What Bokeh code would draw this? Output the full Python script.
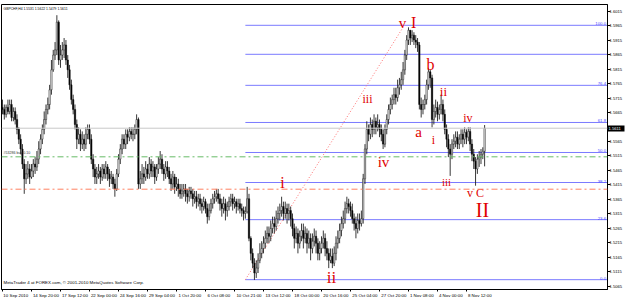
from bokeh.plotting import figure
from bokeh.models import (Range1d, FixedTicker, PrintfTickFormatter, Label, Span,
                          ColumnDataSource, LinearAxis)
from bokeh.core.properties import value
from bokeh.embed import file_html
from bokeh.resources import INLINE

header = "GBPCHF,H4  1.5531 1.5622 1.5479 1.5611"
copyright_note = "MetaTrader 4 at FOREX.com, \u00a9 2001-2010 MetaQuotes Software Corp."
order_note = "#53286 buy 0.10"

first_open = 1.5683
closes = [
    1.5676, 1.5659, 1.5683, 1.5669, 1.5693, 1.5648, 1.5669, 1.5641, 1.5607, 1.5573,
    1.5539, 1.5487, 1.5436, 1.5453, 1.5470, 1.5442, 1.5463, 1.5487, 1.5477, 1.5504,
    1.5539, 1.5573, 1.5607, 1.5641, 1.5676, 1.5693, 1.5744, 1.5813, 1.5864, 1.5882,
    1.5978, 1.5847, 1.5864, 1.5882, 1.5899, 1.5847, 1.5813, 1.5761, 1.5710, 1.5676,
    1.5624, 1.5573, 1.5590, 1.5556, 1.5573, 1.5556, 1.5590, 1.5607, 1.5573, 1.5504,
    1.5470, 1.5442, 1.5453, 1.5463, 1.5442, 1.5470, 1.5453, 1.5477, 1.5453, 1.5436,
    1.5442, 1.5418, 1.5401, 1.5453, 1.5504, 1.5539, 1.5573, 1.5556, 1.5590, 1.5580,
    1.5600, 1.5590, 1.5590, 1.5607, 1.5641, 1.5418, 1.5436, 1.5453, 1.5442, 1.5470,
    1.5453, 1.5487, 1.5463, 1.5477, 1.5442, 1.5470, 1.5487, 1.5504, 1.5470, 1.5453,
    1.5477, 1.5463, 1.5436, 1.5418, 1.5442, 1.5408, 1.5418, 1.5401, 1.5384, 1.5394,
    1.5401, 1.5384, 1.5374, 1.5394, 1.5384, 1.5367, 1.5374, 1.5357, 1.5367, 1.5350,
    1.5340, 1.5357, 1.5333, 1.5305, 1.5326, 1.5350, 1.5367, 1.5374, 1.5384, 1.5367,
    1.5350, 1.5333, 1.5350, 1.5326, 1.5340, 1.5357, 1.5367, 1.5350, 1.5357, 1.5340,
    1.5350, 1.5333, 1.5326, 1.5316, 1.5322, 1.5367, 1.5230, 1.5178, 1.5144, 1.5110,
    1.5127, 1.5154, 1.5178, 1.5195, 1.5213, 1.5230, 1.5247, 1.5237, 1.5264, 1.5281,
    1.5271, 1.5298, 1.5316, 1.5326, 1.5340, 1.5316, 1.5333, 1.5316, 1.5326, 1.5298,
    1.5264, 1.5230, 1.5247, 1.5213, 1.5237, 1.5257, 1.5230, 1.5247, 1.5213, 1.5230,
    1.5195, 1.5220, 1.5237, 1.5213, 1.5178, 1.5195, 1.5213, 1.5230, 1.5195, 1.5178,
    1.5154, 1.5168, 1.5144, 1.5178, 1.5213, 1.5230, 1.5257, 1.5281, 1.5298, 1.5333,
    1.5350, 1.5340, 1.5326, 1.5298, 1.5281, 1.5264, 1.5292, 1.5281, 1.5298, 1.5436,
    1.5539, 1.5607, 1.5590, 1.5624, 1.5607, 1.5635, 1.5614, 1.5624, 1.5607, 1.5590,
    1.5556, 1.5607, 1.5641, 1.5676, 1.5693, 1.5710, 1.5727, 1.5717, 1.5751, 1.5761,
    1.5779, 1.5813, 1.5864, 1.5916, 1.5950, 1.5923, 1.5933, 1.5916, 1.5909, 1.5899,
    1.5693, 1.5676, 1.5693, 1.5710, 1.5761, 1.5806, 1.5785, 1.5641, 1.5669, 1.5683,
    1.5659, 1.5676, 1.5693, 1.5659, 1.5607, 1.5573, 1.5539, 1.5521, 1.5556, 1.5566,
    1.5580, 1.5556, 1.5573, 1.5590, 1.5573, 1.5597, 1.5580, 1.5600, 1.5556, 1.5521,
    1.5497, 1.5470, 1.5504, 1.5511, 1.5521, 1.5531, 1.5611,
]
highs = [
    1.5710, 1.5693, 1.5693, 1.5710, 1.5710, 1.5710, 1.5683, 1.5683, 1.5659, 1.5614,
    1.5590, 1.5556, 1.5504, 1.5487, 1.5497, 1.5487, 1.5487, 1.5504, 1.5511, 1.5532,
    1.5566, 1.5590, 1.5624, 1.5669, 1.5693, 1.5717, 1.5761, 1.5847, 1.5882, 1.5909,
    1.6002, 1.5984, 1.5899, 1.5909, 1.5923, 1.5916, 1.5864, 1.5830, 1.5779, 1.5727,
    1.5693, 1.5641, 1.5614, 1.5607, 1.5600, 1.5590, 1.5614, 1.5624, 1.5624, 1.5590,
    1.5521, 1.5487, 1.5477, 1.5487, 1.5477, 1.5487, 1.5487, 1.5497, 1.5487, 1.5470,
    1.5463, 1.5453, 1.5436, 1.5470, 1.5521, 1.5556, 1.5590, 1.5590, 1.5607, 1.5607,
    1.5614, 1.5614, 1.5614, 1.5624, 1.5659, 1.5648, 1.5463, 1.5487, 1.5477, 1.5497,
    1.5487, 1.5511, 1.5504, 1.5497, 1.5487, 1.5487, 1.5511, 1.5532, 1.5521, 1.5487,
    1.5497, 1.5497, 1.5477, 1.5453, 1.5463, 1.5453, 1.5442, 1.5436, 1.5418, 1.5418,
    1.5418, 1.5418, 1.5401, 1.5408, 1.5408, 1.5401, 1.5394, 1.5394, 1.5384, 1.5384,
    1.5367, 1.5374, 1.5367, 1.5350, 1.5350, 1.5367, 1.5384, 1.5394, 1.5401, 1.5401,
    1.5384, 1.5367, 1.5374, 1.5367, 1.5357, 1.5374, 1.5384, 1.5384, 1.5374, 1.5367,
    1.5367, 1.5367, 1.5350, 1.5340, 1.5340, 1.5408, 1.5384, 1.5237, 1.5195, 1.5161,
    1.5154, 1.5178, 1.5213, 1.5220, 1.5237, 1.5257, 1.5271, 1.5271, 1.5292, 1.5305,
    1.5305, 1.5326, 1.5340, 1.5350, 1.5374, 1.5357, 1.5357, 1.5350, 1.5350, 1.5340,
    1.5316, 1.5281, 1.5271, 1.5264, 1.5257, 1.5281, 1.5281, 1.5271, 1.5264, 1.5257,
    1.5247, 1.5247, 1.5264, 1.5257, 1.5230, 1.5220, 1.5237, 1.5257, 1.5247, 1.5220,
    1.5195, 1.5195, 1.5195, 1.5202, 1.5237, 1.5257, 1.5281, 1.5305, 1.5326, 1.5357,
    1.5374, 1.5367, 1.5357, 1.5350, 1.5316, 1.5305, 1.5316, 1.5316, 1.5326, 1.5453,
    1.5556, 1.5635, 1.5624, 1.5648, 1.5641, 1.5659, 1.5648, 1.5659, 1.5641, 1.5624,
    1.5607, 1.5624, 1.5659, 1.5693, 1.5717, 1.5727, 1.5751, 1.5751, 1.5779, 1.5785,
    1.5806, 1.5840, 1.5882, 1.5933, 1.5960, 1.5950, 1.5950, 1.5943, 1.5933, 1.5923,
    1.5909, 1.5717, 1.5710, 1.5727, 1.5779, 1.5820, 1.5813, 1.5796, 1.5693, 1.5710,
    1.5703, 1.5693, 1.5727, 1.5710, 1.5676, 1.5624, 1.5590, 1.5556, 1.5573, 1.5590,
    1.5600, 1.5600, 1.5590, 1.5607, 1.5607, 1.5614, 1.5607, 1.5614, 1.5614, 1.5573,
    1.5539, 1.5511, 1.5521, 1.5532, 1.5539, 1.5545, 1.5622,
]
lows = [
    1.5659, 1.5641, 1.5648, 1.5659, 1.5659, 1.5635, 1.5635, 1.5624, 1.5590, 1.5556,
    1.5521, 1.5470, 1.5384, 1.5418, 1.5436, 1.5418, 1.5436, 1.5442, 1.5453, 1.5463,
    1.5487, 1.5521, 1.5556, 1.5590, 1.5624, 1.5659, 1.5676, 1.5727, 1.5806, 1.5847,
    1.5864, 1.5830, 1.5820, 1.5847, 1.5854, 1.5830, 1.5785, 1.5744, 1.5693, 1.5659,
    1.5607, 1.5539, 1.5556, 1.5532, 1.5539, 1.5532, 1.5539, 1.5573, 1.5556, 1.5487,
    1.5442, 1.5418, 1.5418, 1.5436, 1.5418, 1.5429, 1.5436, 1.5436, 1.5429, 1.5408,
    1.5418, 1.5401, 1.5374, 1.5394, 1.5442, 1.5487, 1.5521, 1.5539, 1.5539, 1.5556,
    1.5566, 1.5573, 1.5566, 1.5573, 1.5590, 1.5401, 1.5401, 1.5418, 1.5418, 1.5429,
    1.5436, 1.5436, 1.5442, 1.5442, 1.5418, 1.5429, 1.5453, 1.5470, 1.5453, 1.5429,
    1.5436, 1.5442, 1.5418, 1.5394, 1.5401, 1.5384, 1.5394, 1.5374, 1.5367, 1.5367,
    1.5374, 1.5357, 1.5350, 1.5357, 1.5367, 1.5340, 1.5350, 1.5333, 1.5340, 1.5326,
    1.5316, 1.5326, 1.5316, 1.5281, 1.5292, 1.5316, 1.5333, 1.5350, 1.5357, 1.5350,
    1.5326, 1.5305, 1.5316, 1.5292, 1.5305, 1.5326, 1.5340, 1.5326, 1.5333, 1.5316,
    1.5326, 1.5316, 1.5305, 1.5292, 1.5298, 1.5316, 1.5220, 1.5154, 1.5127, 1.5086,
    1.5093, 1.5110, 1.5144, 1.5161, 1.5178, 1.5195, 1.5213, 1.5213, 1.5220, 1.5247,
    1.5247, 1.5257, 1.5281, 1.5292, 1.5305, 1.5292, 1.5298, 1.5281, 1.5292, 1.5271,
    1.5237, 1.5195, 1.5213, 1.5178, 1.5195, 1.5220, 1.5195, 1.5213, 1.5178, 1.5195,
    1.5154, 1.5178, 1.5202, 1.5178, 1.5154, 1.5154, 1.5178, 1.5195, 1.5168, 1.5154,
    1.5127, 1.5144, 1.5127, 1.5134, 1.5154, 1.5195, 1.5213, 1.5237, 1.5264, 1.5281,
    1.5316, 1.5316, 1.5305, 1.5281, 1.5257, 1.5230, 1.5247, 1.5257, 1.5271, 1.5281,
    1.5418, 1.5521, 1.5566, 1.5573, 1.5580, 1.5590, 1.5590, 1.5600, 1.5580, 1.5566,
    1.5539, 1.5545, 1.5590, 1.5624, 1.5659, 1.5676, 1.5693, 1.5693, 1.5703, 1.5727,
    1.5744, 1.5761, 1.5796, 1.5847, 1.5899, 1.5899, 1.5909, 1.5899, 1.5888, 1.5875,
    1.5676, 1.5648, 1.5659, 1.5676, 1.5693, 1.5744, 1.5751, 1.5614, 1.5624, 1.5648,
    1.5635, 1.5641, 1.5659, 1.5635, 1.5590, 1.5545, 1.5511, 1.5446, 1.5504, 1.5539,
    1.5545, 1.5539, 1.5539, 1.5556, 1.5545, 1.5556, 1.5556, 1.5566, 1.5532, 1.5497,
    1.5470, 1.5412, 1.5453, 1.5477, 1.5487, 1.5504, 1.5479,
]

date_ticks = [0, 16, 32, 48, 64, 80, 96, 112, 128, 144, 160, 176, 192, 208, 224, 240, 256]
date_labels = ["10 Sep 2010", "14 Sep 20:00", "17 Sep 12:00", "22 Sep 00:00", "24 Sep 16:00",
               "29 Sep 04:00", "1 Oct 20:00", "6 Oct 08:00", "10 Oct 21:00", "13 Oct 12:00",
               "18 Oct 00:00", "20 Oct 16:00", "25 Oct 04:00", "27 Oct 20:00", "1 Nov 08:00",
               "4 Nov 00:00", "8 Nov 12:00"]
# 1.5615 sits under the current-price box in the reference
price_ticks = [1.6015, 1.5965, 1.5915, 1.5865, 1.5815, 1.5765, 1.5715, 1.5665,
               1.5565, 1.5515, 1.5465, 1.5415, 1.5365, 1.5315, 1.5265, 1.5215, 1.5165,
               1.5115, 1.5065]

bid_price = 1.5611
order_price = 1.5512
stop_price = 1.5400

fib_low = 1.5087
fib_high = 1.5967
fib_start_bar = 134
fib_levels = [0.0, 23.6, 38.2, 50.0, 61.8, 76.4, 88.6, 100.0]
fib_texts = ["0.0", "23.6", "38.2", "50.0", "61.8", "76.4", "", "100.0"]

trend_bars = [134, 221]
trend_prices = [1.5087, 1.5960]

wave_text = ["v", "I", "b", "ii", "iii", "a", "i", "iv", "iv", "i", "ii", "iii", "v C", "II"]
wave_bar = [220.7, 226.8, 236.1, 243.3, 201.4, 229.5, 237.8, 256.8, 210.2, 154.5, 181.5, 245.0, 261.0, 264.8]
wave_price = [1.5974, 1.5978, 1.5833, 1.5737, 1.5713, 1.5597, 1.5569, 1.5645, 1.5494, 1.5422,
              1.5093, 1.5425, 1.5388, 1.5329]
wave_size = ["15px", "16px", "16px", "13px", "12px", "15px", "12px", "12px", "15px", "16px",
             "17px", "11px", "12px", "20px"]

# ---------------------------------------------------------------
n = len(closes)
xs = list(range(n))
opens = [first_open] + closes[:-1]
hi = [max(h, o, c) for h, o, c in zip(highs, opens, closes)]
lo = [min(l, o, c) for l, o, c in zip(lows, opens, closes)]
bull = [c >= o for o, c in zip(opens, closes)]

X0, X1 = -0.55, 333.8
Y0, Y1 = 1.5053, 1.6039
LABEL_PX = 4.4
PRICE_PX = 4.1
BAR_PX = 1.8125

p = figure(width=625, height=300, output_backend="svg", toolbar_location=None,
           x_range=Range1d(X0, X1), y_range=Range1d(Y0, Y1),
           y_axis_location=None, x_axis_location=None,
           min_border_left=1, min_border_right=17, min_border_top=4, min_border_bottom=9)
p.background_fill_color = "white"
p.border_fill_color = "white"
p.outline_line_color = "black"
p.outline_line_width = 1
p.grid.visible = False

# right price scale, part 1 (next to the chart): tick marks + current-price box
bid_axis = LinearAxis(ticker=FixedTicker(ticks=[bid_price], minor_ticks=price_ticks),
                      formatter=PrintfTickFormatter(format="%.4f"))
bid_axis.axis_line_color = "black"
bid_axis.major_tick_out = 17
bid_axis.major_tick_in = 0
bid_axis.major_tick_line_width = 6
bid_axis.major_tick_line_color = "black"
bid_axis.minor_tick_out = 3
bid_axis.minor_tick_in = 0
bid_axis.minor_tick_line_color = "black"
bid_axis.major_label_standoff = -16
bid_axis.major_label_text_font_size = f"{PRICE_PX}px"
bid_axis.major_label_text_font = "Liberation Sans"
bid_axis.major_label_text_color = "white"
p.add_layout(bid_axis, "right")

# right price scale, part 2: the price labels, pulled back beside the ticks
price_axis = LinearAxis(ticker=FixedTicker(ticks=price_ticks),
                        formatter=PrintfTickFormatter(format="%.4f"))
price_axis.axis_line_color = None
price_axis.major_tick_out = 0
price_axis.major_tick_in = 0
price_axis.minor_tick_out = 0
price_axis.minor_tick_in = 0
price_axis.major_label_standoff = -14
price_axis.major_label_text_font_size = f"{PRICE_PX}px"
price_axis.major_label_text_font = "Liberation Sans"
price_axis.major_label_text_color = "black"
p.add_layout(price_axis, "right")

# bottom time axis: labels start at their bar, as MetaTrader draws them
label_ticks = [t + len(l) * 0.52 * LABEL_PX * 0.5 / BAR_PX + 0.4 for t, l in zip(date_ticks, date_labels)]
time_axis = LinearAxis(ticker=FixedTicker(ticks=label_ticks, minor_ticks=date_ticks),
                       major_label_overrides={t: l for t, l in zip(label_ticks, date_labels)})
time_axis.major_label_text_font_size = f"{LABEL_PX}px"
time_axis.major_label_text_font = "Liberation Sans"
time_axis.major_label_text_color = "black"
time_axis.major_tick_out = 0
time_axis.major_tick_in = 0
time_axis.minor_tick_out = 2
time_axis.minor_tick_in = 0
time_axis.minor_tick_line_color = "black"
time_axis.major_label_standoff = 1
time_axis.axis_line_color = "black"
p.add_layout(time_axis, "below")

# horizontal level lines
p.add_layout(Span(location=bid_price, dimension="width", line_color="#c8c8c8", line_width=1))
p.add_layout(Span(location=order_price, dimension="width", line_color="#66bb66",
                  line_width=1, line_dash="6 3 2 3"))
p.add_layout(Span(location=stop_price, dimension="width", line_color="#ff8060",
                  line_width=1, line_dash="6 3 2 3"))

# fibonacci retracement
fib_prices = [fib_low + lv / 100.0 * (fib_high - fib_low) for lv in fib_levels]
p.segment(x0=[fib_start_bar] * len(fib_prices), y0=fib_prices,
          x1=[X1 + 5] * len(fib_prices), y1=fib_prices,
          line_color="#7b7bff", line_width=1)
lab_y = [fp for fp, t in zip(fib_prices, fib_texts) if t]
lab_t = [t for t in fib_texts if t]
p.text(x=[X1 - 0.8] * len(lab_y), y=lab_y, text=lab_t,
       text_align="right", text_baseline="bottom", text_font_size="4.3px",
       text_font=value("Liberation Sans"), text_color="#4a4aff")

# trend line
p.line(trend_bars, trend_prices, line_color="#ff6f6f", line_width=1, line_dash="1 2")

# candles
src = ColumnDataSource(dict(
    x=xs, high=hi, low=lo,
    top=[max(o, c) for o, c in zip(opens, closes)],
    bottom=[min(o, c) for o, c in zip(opens, closes)],
    fill=["white" if b else "black" for b in bull],
))
p.segment(x0="x", y0="low", x1="x", y1="high", source=src, line_color="#222222", line_width=0.9)
p.vbar(x="x", width=0.75, top="top", bottom="bottom", source=src,
       fill_color="fill", line_color="#111111", line_width=0.5)

# wave labels
wsrc = ColumnDataSource(dict(x=wave_bar, y=wave_price, t=wave_text, s=wave_size))
p.text(x="x", y="y", text="t", text_font_size="s", source=wsrc,
       text_align="center", text_baseline="middle",
       text_font=value("Liberation Serif"), text_color="#e00000")

# texts
p.add_layout(Label(x=X0, y=Y1, x_offset=2, y_offset=-2, text=header,
                   text_font_size="3.4px", text_font="Liberation Sans",
                   text_color="black", text_baseline="top"))
p.add_layout(Label(x=X0, y=Y0, x_offset=2, y_offset=5, text=copyright_note,
                   text_font_size="4.4px", text_font="Liberation Sans",
                   text_color="black", text_baseline="bottom"))
p.add_layout(Label(x=X0, y=order_price, x_offset=2, y_offset=2, text=order_note,
                   text_font_size="3.6px", text_font="Liberation Sans",
                   text_color="#333333", text_baseline="bottom"))

open("out.html", "w").write(file_html(p, INLINE))
